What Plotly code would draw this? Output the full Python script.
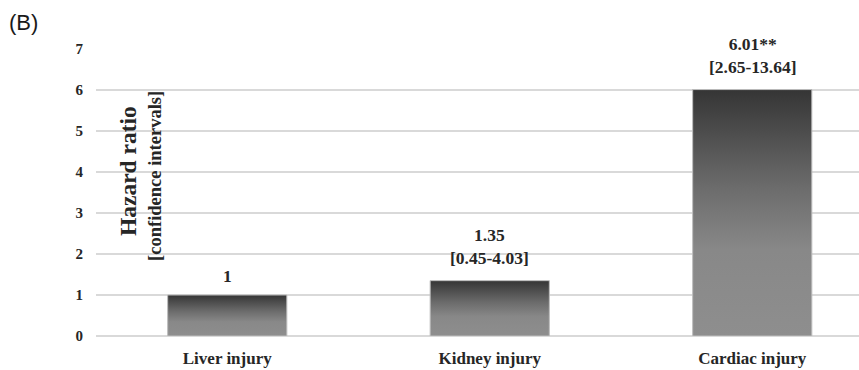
import plotly.graph_objects as go

# Hazard ratios by organ injury type
categories = ["Liver injury", "Kidney injury", "Cardiac injury"]
hazard_ratio = [1.0, 1.35, 6.01]
ci_text = ["", "[0.45-4.03]", "[2.65-13.64]"]
significance = ["", "", "**"]
value_text = ["1", "1.35", "6.01"]
y_ticks = [0, 1, 2, 3, 4, 5, 6, 7]

SERIF = "Liberation Serif, Times New Roman, serif"
BAR_HALF = 0.227

fig = go.Figure()

# Each bar is a filled polygon so it can carry its own vertical gradient
for i, (cat, hr) in enumerate(zip(categories, hazard_ratio)):
    xs = [i - BAR_HALF, i + BAR_HALF, i + BAR_HALF, i - BAR_HALF, i - BAR_HALF]
    ys = [0, 0, hr, hr, 0]
    fig.add_trace(go.Scatter(
        x=xs, y=ys, mode="lines", fill="toself",
        line=dict(color="#bdbdbd", width=1),
        fillgradient=dict(
            type="vertical",
            start=0, stop=hr,
            colorscale=[[0, "#8e8e8e"], [0.35, "#888888"], [0.6, "#6c6c6c"], [1, "#353535"]],
        ),
        hoverinfo="skip", showlegend=False, name=cat,
    ))

    label = f"<b>{value_text[i]}{significance[i]}</b>"
    shift = 7
    if ci_text[i]:
        label += f"<br><b>{ci_text[i]}</b>"
        shift = 11
    fig.add_annotation(
        x=i, y=hr, xref="x", yref="y", text=label, showarrow=False,
        yanchor="bottom", yshift=shift,
        font=dict(family=SERIF, size=17.5, color="#262626"),
    )

fig.add_annotation(
    x=0.042, y=0.575, xref="paper", yref="paper", text="<b>Hazard ratio</b>",
    textangle=-90, showarrow=False, xanchor="center", yanchor="middle",
    font=dict(family=SERIF, size=23.5, color="#262626"),
)
fig.add_annotation(
    x=0.077, y=0.557, xref="paper", yref="paper", text="<b>[confidence intervals]</b>",
    textangle=-90, showarrow=False, xanchor="center", yanchor="middle",
    font=dict(family=SERIF, size=18.5, color="#262626"),
)
fig.add_annotation(
    x=-0.117, y=1.094, xref="paper", yref="paper", text="(B)",
    showarrow=False, xanchor="left", yanchor="middle",
    font=dict(family="Liberation Sans, Arial, sans-serif", size=22, color="#1a1a1a"),
)

fig.update_layout(
    width=859, height=370,
    margin=dict(l=96, r=0, t=49, b=34),
    paper_bgcolor="white", plot_bgcolor="white",
    xaxis=dict(
        range=[-0.5, -0.5 + 763 / 262.5],
        tickvals=list(range(len(categories))),
        ticktext=[f"<b>{c}</b>" for c in categories],
        showgrid=False, zeroline=False, showline=False,
        tickfont=dict(family=SERIF, size=17, color="#262626"),
        ticks="", ticklabelstandoff=10,
    ),
    yaxis=dict(
        range=[0, 7], tickvals=y_ticks,
        ticktext=[f"<b>{v}</b>" for v in y_ticks],
        showgrid=True, gridcolor="#d9d9d9", gridwidth=1.5,
        zeroline=True, zerolinecolor="#d9d9d9", zerolinewidth=1.5,
        showline=False, ticks="", ticklabelstandoff=12,
        tickfont=dict(family=SERIF, size=15, color="#262626"),
    ),
)

fig.write_html("out.html")
